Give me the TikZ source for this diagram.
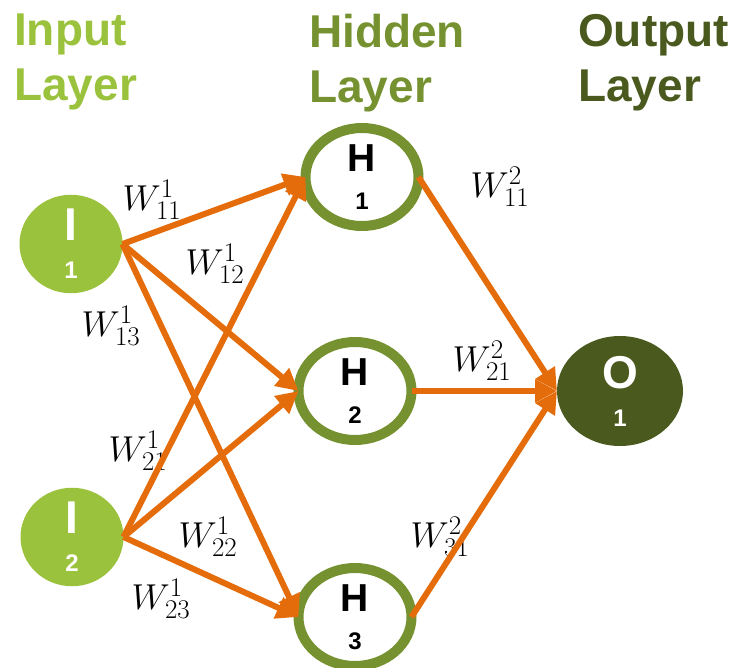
\RequirePackage{fix-cm}
\documentclass[tikz,border=0pt]{standalone}
\usepackage{fontspec}
\setsansfont{Liberation Sans}
\usetikzlibrary{shapes.geometric,arrows.meta}
\DeclareMathSizes{36}{36}{27}{20}
\definecolor{inputgreen}{RGB}{155,194,60}
\definecolor{hiddengreen}{RGB}{118,146,48}
\definecolor{outputgreen}{RGB}{74,90,30}
\definecolor{arroworange}{RGB}{228,108,10}

\begin{document}
\begin{tikzpicture}[x=1pt, y=1pt,
  title/.style={anchor=north west, align=left, inner sep=0pt, font=\fontsize{46}{55}\selectfont\sffamily\bfseries},
  neuron/.style={ellipse, inner sep=0pt, outer sep=0pt, align=center, font=\fontsize{24}{38}\selectfont\sffamily\bfseries},
  inp/.style={neuron, fill=inputgreen, text=white, minimum width=103pt, minimum height=98pt},
  hid/.style={neuron, draw=hiddengreen, line width=10pt, fill=white, minimum width=113pt, minimum height=98pt},
  outp/.style={neuron, fill=outputgreen, text=white, minimum width=126pt, minimum height=110pt},
  wlab/.style={inner sep=0pt, font=\fontsize{36}{40}\selectfont},
  arr/.style={-{Triangle[length=22pt, width=22pt]}, line width=6pt, draw=arroworange}
]
\useasboundingbox (0,0) rectangle (742,-668);

\node[title, text=inputgreen] (tin) at (14,-14) {Input\\Layer};
\node[title, text=hiddengreen] (thid) at (309,-14) {Hidden\\Layer};
\node[title, text=outputgreen] (tout) at (578,-14) {Output\\Layer};

\node[inp] (i1) at (71,-244) {{\fontsize{46}{38}\selectfont I}\\1};
\node[inp] (i2) at (72,-537) {{\fontsize{46}{38}\selectfont I}\\2};

\node[hid] (h1) at (362,-177) {{\fontsize{39}{38}\selectfont H}\\1};
\node[hid] (h2) at (355,-391) {{\fontsize{39}{38}\selectfont H}\\2};
\node[hid] (h3) at (355,-617) {{\fontsize{39}{38}\selectfont H}\\3};

\node[outp] (o1) at (620,-391) {{\fontsize{46}{38}\selectfont O}\\1};

\node[wlab] (l11) at (152,-200) {$W^{1}_{11}$};
\node[wlab] (l12) at (215,-264) {$W^{1}_{12}$};
\node[wlab] (l13) at (111,-326) {$W^{1}_{13}$};
\node[wlab] (l21) at (138,-451) {$W^{1}_{21}$};
\node[wlab] (l22) at (208,-537) {$W^{1}_{22}$};
\node[wlab] (l23) at (161,-599) {$W^{1}_{23}$};
\node[wlab] (m11) at (500,-187) {$W^{2}_{11}$};
\node[wlab] (m21) at (482,-361) {$W^{2}_{21}$};
\node[wlab] (m31) at (440,-537) {$W^{2}_{31}$};

\draw[arr] (i1.east) -- (h1.west);
\draw[arr] (i1.east) -- (h2.west);
\draw[arr] (i1.east) -- (h3.west);
\draw[arr] (i2.east) -- (h1.west);
\draw[arr] (i2.east) -- (h2.west);
\draw[arr] (i2.east) -- (h3.west);
\draw[arr] (h1.east) -- (o1.west);
\draw[arr] (h2.east) -- (o1.west);
\draw[arr] (h3.east) -- (o1.west);
\end{tikzpicture}
\end{document}
